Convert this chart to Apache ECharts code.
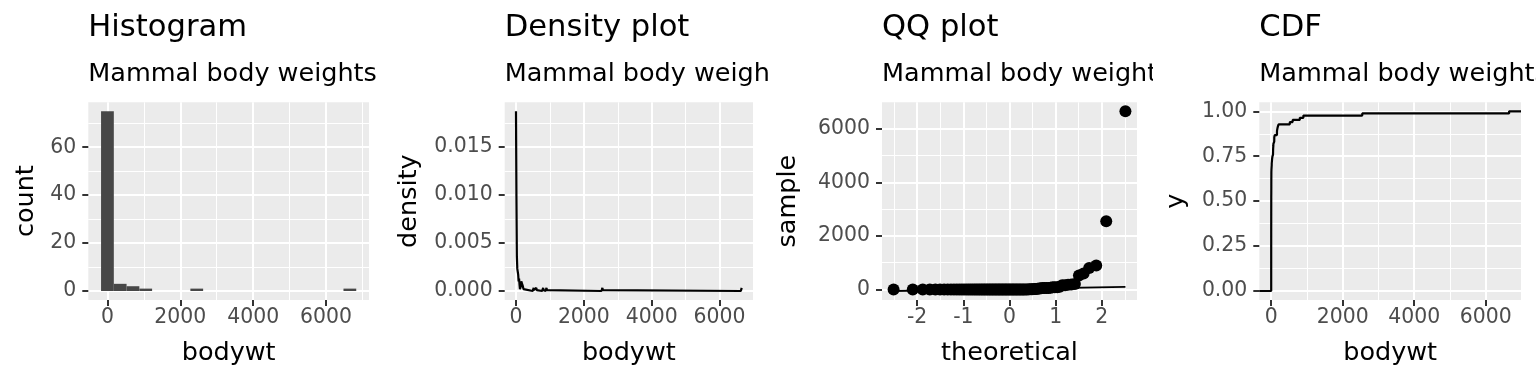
<!DOCTYPE html>
<html>
<head>
<meta charset="utf-8">
<script src="https://cdn.jsdelivr.net/npm/echarts@6/dist/echarts.min.js"></script>
<style>
html,body{margin:0;padding:0;background:#ffffff;}
#wrap{position:relative;width:1536px;height:384px;overflow:hidden;background:#fff;}
.slot{position:absolute;top:0;height:384px;overflow:hidden;}
</style>
</head>
<body>
<div id="wrap">
  <div class="slot" id="c1" style="left:0px;width:384px"></div>
  <div class="slot" id="c2" style="left:384px;width:384px"></div>
  <div class="slot" id="c3" style="left:768px;width:385px"></div>
  <div class="slot" id="c4" style="left:1153px;width:383px"></div>
</div>
<script>
// ---------------- data ----------------
// Mammal body weights (kg), sorted ascending
const bodyWeights = [
  0.005, 0.01, 0.019, 0.021, 0.022, 0.023, 0.028, 0.035, 0.044, 0.045,
  0.048, 0.053, 0.06, 0.071, 0.075, 0.101, 0.104, 0.112, 0.12, 0.122,
  0.148, 0.2, 0.205, 0.21, 0.266, 0.32, 0.37, 0.42, 0.48, 0.55,
  0.728, 0.743, 0.77, 0.9, 0.92, 1, 1.1, 1.1, 1.35, 1.4,
  1.41, 1.62, 1.67, 1.7, 2.5, 2.625, 2.95, 3.3, 3.38, 3.5,
  3.6, 3.85, 4.23, 4.5, 4.75, 6.8, 10, 14, 14.8, 20.49,
  25.235, 33.5, 50, 52.2, 53.18, 55.5, 60, 62, 85, 86,
  86.25, 100, 161.499, 162.564, 173.33, 187, 207.501, 521, 600, 800,
  899.995, 2547, 6654
];

// Histogram (20 bins)
const histBinEdges = [-175.1, 175.1, 525.3, 875.5, 1225.7, 1575.9, 1926.1, 2276.3, 2626.5, 2976.7,
  3326.9, 3677.1, 4027.3, 4377.5, 4727.7, 5077.9, 5428.1, 5778.3, 6128.5, 6478.7, 6828.9];
const histCounts = [75, 3, 2, 1, 0, 0, 0, 1, 0, 0, 0, 0, 0, 0, 0, 0, 0, 0, 0, 1];

// Density curve
const densityX = [0, 13, 26, 39, 52, 65, 78, 91, 104, 117, 130, 143, 156, 169, 182, 195, 208, 221, 234, 247,
  495, 508, 521, 534, 547, 573, 586, 599, 612, 625,
  774, 787, 800, 813, 826, 873, 886, 899, 912, 925,
  2521, 2534, 2547, 2560, 2573, 6628, 6641, 6654];
const densityY = [0.0187, 0.0098, 0.0036, 0.0023, 0.0025, 0.0017, 0.0010, 0.0013, 0.0007, 0.0002, 0.0001, 0.0005, 0.0010, 0.0012, 0.0009, 0.0006, 0.0005, 0.0002, 0.00003, 0,
  0, 0.0001, 0.00033, 0.0001, 0, 0, 0.0001, 0.00033, 0.0001, 0,
  0, 0.0001, 0.00033, 0.0001, 0, 0, 0.0001, 0.00033, 0.0001, 0,
  0, 0.0001, 0.00033, 0.0001, 0, 0, 0.0001, 0.00033];

// Tick labels
const weightTicks = [0, 2000, 4000, 6000];
const countTicks = [0, 20, 40, 60];
const densityTicks = [0, 0.005, 0.010, 0.015];
const theoreticalTicks = [-2, -1, 0, 1, 2];
const sampleTicks = [0, 2000, 4000, 6000];
const cdfTicks = [0, 0.25, 0.5, 0.75, 1];

const titles = ['Histogram', 'Density plot', 'QQ plot', 'CDF'];
const subtitle = 'Mammal body weights';

// ---------------- helpers ----------------
const FONT = 'DejaVu Sans';
const TICK_FS = 20.4, TITLE_FS = 30.6, SUB_FS = 25.5, AXT_FS = 25.5;

function qnorm(p) {
  const a = [-3.969683028665376e+01, 2.209460984245205e+02, -2.759285104469687e+02, 1.383577518672690e+02, -3.066479806614716e+01, 2.506628277459239e+00];
  const b = [-5.447609879822406e+01, 1.615858368580409e+02, -1.556989798598866e+02, 6.680131188771972e+01, -1.328068155288572e+01];
  const c = [-7.784894002430293e-03, -3.223964580411365e-01, -2.400758277161838e+00, -2.549732539343734e+00, 4.374664141464968e+00, 2.938163982698783e+00];
  const d = [7.784695709041462e-03, 3.224671290700398e-01, 2.445134137142996e+00, 3.754408661907416e+00];
  const pl = 0.02425, ph = 1 - pl;
  let q, r;
  if (p < pl) { q = Math.sqrt(-2 * Math.log(p)); return (((((c[0]*q+c[1])*q+c[2])*q+c[3])*q+c[4])*q+c[5]) / ((((d[0]*q+d[1])*q+d[2])*q+d[3])*q+1); }
  if (p > ph) { q = Math.sqrt(-2 * Math.log(1 - p)); return -(((((c[0]*q+c[1])*q+c[2])*q+c[3])*q+c[4])*q+c[5]) / ((((d[0]*q+d[1])*q+d[2])*q+d[3])*q+1); }
  q = p - 0.5; r = q * q;
  return (((((a[0]*r+a[1])*r+a[2])*r+a[3])*r+a[4])*r+a[5])*q / (((((b[0]*r+b[1])*r+b[2])*r+b[3])*r+b[4])*r+1);
}
function quantile7(sorted, p) {
  const h = (sorted.length - 1) * p, lo = Math.floor(h);
  return sorted[lo] + (h - lo) * (sorted[Math.min(lo + 1, sorted.length - 1)] - sorted[lo]);
}
function minorsBetween(ticks, lo, hi) {
  const out = [];
  const step = ticks[1] - ticks[0];
  for (let v = ticks[0] - step / 2; v >= lo; v -= step) out.unshift(v);
  for (let i = 0; i < ticks.length; i++) { const v = ticks[i] + step / 2; if (v <= hi) out.push(v); }
  return out.filter(v => v > lo && v < hi);
}

function axes(dim, min, max, ticks, fmt, name, nameGap, labelMargin) {
  const isX = dim === 'x';
  const main = {
    type: 'value', min: min, max: max,
    position: isX ? 'bottom' : 'left',
    axisLine: { show: false, onZero: false },
    axisTick: { show: true, length: 6, lineStyle: { color: '#333333', width: 2 }, customValues: ticks },
    axisLabel: { show: true, customValues: ticks, formatter: fmt, color: '#4D4D4D',
      fontFamily: FONT, fontSize: TICK_FS, margin: labelMargin },
    splitLine: { show: true, lineStyle: { color: '#FFFFFF', width: 2 } },
    minorTick: { show: false }, minorSplitLine: { show: false },
    name: name, nameLocation: 'middle', nameGap: nameGap, nameMoveOverlap: false,
    nameTextStyle: { fontFamily: FONT, fontSize: AXT_FS, color: '#000000' }
  };
  const minor = {
    type: 'value', min: min, max: max,
    position: isX ? 'top' : 'right',
    axisLine: { show: false, onZero: false },
    axisTick: { show: false, customValues: minorsBetween(ticks, min, max) },
    axisLabel: { show: false },
    splitLine: { show: true, lineStyle: { color: '#FFFFFF', width: 1 } },
    minorTick: { show: false }, minorSplitLine: { show: false }
  };
  return [main, minor];
}

function baseOption(p) {
  return {
    animation: false,
    title: [
      { text: p.title, left: p.left, top: 13, padding: 0,
        textStyle: { fontFamily: FONT, fontSize: TITLE_FS, fontWeight: 'normal', color: '#000000' } },
      { text: subtitle, left: p.left, top: 61, padding: 0,
        textStyle: { fontFamily: FONT, fontSize: SUB_FS, fontWeight: 'normal', color: '#000000' } }
    ],
    grid: { left: p.left, top: 102.3, width: p.width, height: 197.7, show: true,
      backgroundColor: '#EBEBEB', borderWidth: 0, containLabel: false, outerBoundsMode: 'none' },
    xAxis: axes('x', p.xmin, p.xmax, p.xticks, p.xfmt, p.xname, 40.4, 7.5),
    yAxis: axes('y', p.ymin, p.ymax, p.yticks, p.yfmt, p.yname, p.ynameGap, 12),
    series: p.series
  };
}

const intFmt = v => String(Math.round(v));

// ---------- Panel 1: histogram ----------
const histData = histCounts.map((c, i) => [histBinEdges[i], histBinEdges[i + 1], c]);
const hx0 = histBinEdges[0], hx1 = histBinEdges[histBinEdges.length - 1];
const hpad = (hx1 - hx0) * 0.05;
const hmax = Math.max(...histCounts);
const opt1 = baseOption({
  title: titles[0], left: 88.3, width: 280.7,
  xmin: hx0 - hpad, xmax: hx1 + hpad, xticks: weightTicks, xfmt: intFmt, xname: 'bodywt',
  ymin: -hmax * 0.05, ymax: hmax * 1.05, yticks: countTicks, yfmt: intFmt, yname: 'count', ynameGap: 49.4,
  series: [{
    type: 'custom', xAxisIndex: 0, yAxisIndex: 0,
    data: histData,
    encode: { x: [0, 1], y: 2 },
    renderItem: function (params, api) {
      const a = api.coord([api.value(0), api.value(2)]);
      const b = api.coord([api.value(1), 0]);
      return { type: 'rect', shape: { x: a[0], y: a[1], width: b[0] - a[0], height: b[1] - a[1] },
        style: { fill: '#474747' } };
    }
  }]
});

// ---------- Panel 2: density ----------
const wmin = bodyWeights[0], wmax = bodyWeights[bodyWeights.length - 1];
const wpad = (wmax - wmin) * 0.05;
const dmax = Math.max(...densityY);
const opt2 = baseOption({
  title: titles[1], left: 120.7, width: 248.3,
  xmin: wmin - wpad, xmax: wmax + wpad, xticks: weightTicks, xfmt: intFmt, xname: 'bodywt',
  ymin: -dmax * 0.05, ymax: dmax * 1.05, yticks: densityTicks, yfmt: v => v.toFixed(3), yname: 'density', ynameGap: 82,
  series: [{
    type: 'line', xAxisIndex: 0, yAxisIndex: 0, showSymbol: false, symbol: 'none',
    data: densityX.map((x, i) => [x, densityY[i]]),
    lineStyle: { color: '#000000', width: 2.2 }, clip: true
  }]
});

// ---------- Panel 3: QQ ----------
const n = bodyWeights.length;
const theo = bodyWeights.map((v, i) => qnorm((i + 1 - 0.5) / n));
const q1 = quantile7(bodyWeights, 0.25), q3 = quantile7(bodyWeights, 0.75);
const slope = (q3 - q1) / (qnorm(0.75) - qnorm(0.25));
const icpt = q1 - slope * qnorm(0.25);
const tmin = theo[0], tmax = theo[n - 1];
const lineY0 = icpt + slope * tmin, lineY1 = icpt + slope * tmax;
const tpad = (tmax - tmin) * 0.05;
const symin = Math.min(lineY0, wmin), symax = Math.max(lineY1, wmax);
const spad = (symax - symin) * 0.05;
const opt3 = baseOption({
  title: titles[2], left: 114, width: 255,
  xmin: tmin - tpad, xmax: tmax + tpad, xticks: theoreticalTicks, xfmt: intFmt, xname: 'theoretical',
  ymin: symin - spad, ymax: symax + spad, yticks: sampleTicks, yfmt: intFmt, yname: 'sample', ynameGap: 80.4,
  series: [
    { type: 'scatter', xAxisIndex: 0, yAxisIndex: 0, symbol: 'circle', symbolSize: 12,
      data: bodyWeights.map((v, i) => [theo[i], v]), itemStyle: { color: '#000000', opacity: 1 } },
    { type: 'line', xAxisIndex: 0, yAxisIndex: 0, showSymbol: false, symbol: 'none',
      data: [[tmin, lineY0], [tmax, lineY1]], lineStyle: { color: '#000000', width: 1.8 } }
  ]
});

// ---------- Panel 4: CDF ----------
const cxmin = wmin - wpad, cxmax = wmax + wpad;
const ecdf = [[cxmin, 0]].concat(bodyWeights.map((v, i) => [v, (i + 1) / n]), [[cxmax, 1]]);
const opt4 = baseOption({
  title: titles[3], left: 106.3, width: 261.7,
  xmin: cxmin, xmax: cxmax, xticks: weightTicks, xfmt: intFmt, xname: 'bodywt',
  ymin: -0.05, ymax: 1.05, yticks: cdfTicks, yfmt: v => v.toFixed(2), yname: 'y', ynameGap: 70,
  series: [{
    type: 'line', xAxisIndex: 0, yAxisIndex: 0, showSymbol: false, symbol: 'none', step: 'end',
    data: ecdf, lineStyle: { color: '#000000', width: 2.2 }
  }]
});

[['c1', opt1], ['c2', opt2], ['c3', opt3], ['c4', opt4]].forEach(([id, opt]) => {
  const chart = echarts.init(document.getElementById(id), null, { renderer: 'canvas' });
  chart.setOption(opt);
});
</script>
</body>
</html>
